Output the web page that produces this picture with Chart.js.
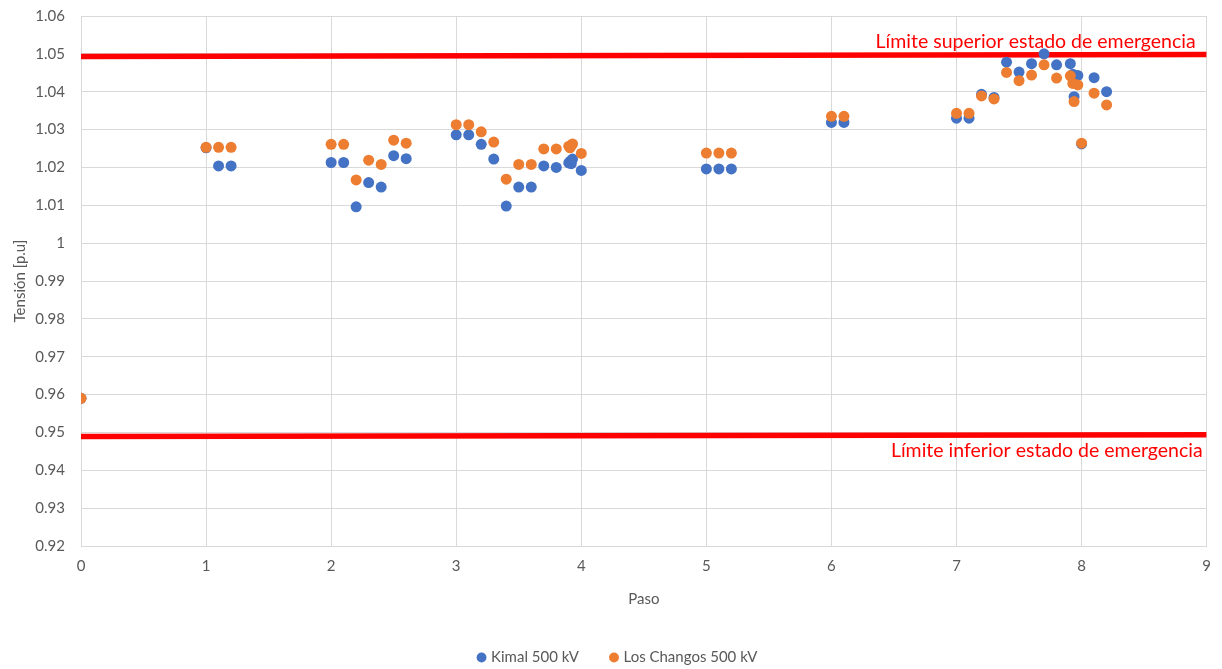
<!DOCTYPE html>
<html lang="es">
<head>
<meta charset="UTF-8">
<title>Tensión por paso</title>
<script src="https://cdn.jsdelivr.net/npm/chart.js@4.4.1/dist/chart.umd.min.js"></script>
<style>
    html, body { margin: 0; padding: 0; background: #fff; }
    #contenedor { width: 1222px; height: 669px; }
</style>
</head>
<body>
<div id="contenedor"><canvas id="chartTension"></canvas></div>
<script>
const pasos = [0, 1, 1.1, 1.2, 2, 2.1, 2.2, 2.3, 2.4, 2.5, 2.6, 3, 3.1, 3.2, 3.3, 3.4, 3.5, 3.6, 3.7, 3.8, 3.9, 3.91, 3.92, 3.93, 4,
    5, 5.1, 5.2, 6, 6.1, 7, 7.1, 7.2, 7.3, 7.4, 7.5, 7.6, 7.7, 7.8, 7.91, 7.93, 7.94, 7.97, 8, 8.1, 8.2]

const kimal = [0.959, 1.0252, 1.0204, 1.0204, 1.0213, 1.0213, 1.0096, 1.0160, 1.0148, 1.0231, 1.0223, 1.0286, 1.0286, 1.0261, 1.0222, 1.0098,
    1.0148, 1.0148, 1.0204, 1.0200, 1.0212, 1.0216, 1.0210, 1.0222, 1.0192, 1.0196, 1.0196, 1.0196, 1.0319, 1.0319, 1.0330, 1.0330,
    1.0393, 1.0385, 1.0478, 1.0452, 1.0474, 1.0500, 1.0471, 1.0474, 1.0446, 1.0387, 1.0443, 1.0262, 1.0437, 1.0400]

const losChangos = [0.959, 1.0253, 1.0253, 1.0253, 1.0261, 1.0261, 1.0167, 1.0219, 1.0208, 1.0272, 1.0264, 1.0313, 1.0313, 1.0294, 1.0267, 1.0169,
    1.0208, 1.0208, 1.0249, 1.0249, 1.0256, 1.0252, 1.0258, 1.0262, 1.0237, 1.0238, 1.0238, 1.0238, 1.0335, 1.0335, 1.0343, 1.0343,
    1.0389, 1.0381, 1.0451, 1.0429, 1.0444, 1.0471, 1.0436, 1.0442, 1.0422, 1.0374, 1.0418, 1.0264, 1.0396, 1.0365]

const extremosLimite = [0, 9]
const limiteSuperior = [1.0493, 1.0498]
const limiteInferior = [0.9489, 0.9494]

const textoSuperior = 'Límite superior estado de emergencia'
const textoInferior = 'Límite inferior estado de emergencia'

const gris = '#595959'
const fuente = 'Lato, "Open Sans", sans-serif'

const aPuntos = (xs, ys) => xs.map((x, i) => ({ x: x, y: ys[i] }))

const etiquetasLimite = {
    id: 'etiquetasLimite',
    afterDatasetsDraw(chart) {
        const { ctx, scales: { x, y } } = chart
        ctx.save()
        ctx.fillStyle = '#FF0000'
        ctx.font = '19.5px ' + fuente
        ctx.textAlign = 'right'
        ctx.textBaseline = 'alphabetic'
        ctx.fillText(textoSuperior, x.getPixelForValue(9) - 11, y.getPixelForValue(limiteSuperior[1]) - 7)
        ctx.fillText(textoInferior, x.getPixelForValue(9) - 4, y.getPixelForValue(limiteInferior[1]) + 22)
        ctx.restore()
    }
}

// la leyenda centrada de chart.js queda un poco a la izquierda
const ajusteLeyenda = {
    id: 'ajusteLeyenda',
    afterLayout(chart) {
        const leyenda = chart.legend
        if (!leyenda) return
        leyenda.left += 15
        leyenda.right += 15
        leyenda.top += 2
        leyenda.bottom += 2
    }
}

const ctx = document.getElementById('chartTension').getContext('2d')

const chartTension = new Chart(ctx, {
    type: 'scatter',
    data: {
        datasets: [
            {
                label: 'Kimal 500 kV',
                data: aPuntos(pasos, kimal),
                backgroundColor: '#4472C4',
                borderColor: '#4472C4',
                borderWidth: 0,
                pointRadius: 5.5,
                pointStyle: 'circle',
                order: 2
            },
            {
                label: 'Los Changos 500 kV',
                data: aPuntos(pasos, losChangos),
                backgroundColor: '#ED7D31',
                borderColor: '#ED7D31',
                borderWidth: 0,
                pointRadius: 5.5,
                pointStyle: 'circle',
                order: 1
            },
            {
                type: 'line',
                label: textoSuperior,
                data: aPuntos(extremosLimite, limiteSuperior),
                borderColor: '#FF0000',
                borderWidth: 5.5,
                pointRadius: 0,
                showLine: true,
                order: 3
            },
            {
                type: 'line',
                label: textoInferior,
                data: aPuntos(extremosLimite, limiteInferior),
                borderColor: '#FF0000',
                borderWidth: 5.5,
                pointRadius: 0,
                showLine: true,
                order: 3
            }
        ]
    },
    options: {
        responsive: true,
        maintainAspectRatio: false,
        animation: false,
        layout: { padding: { top: 16, right: 15, left: 0, bottom: 0 } },
        scales: {
            x: {
                type: 'linear',
                min: 0,
                max: 9,
                ticks: { stepSize: 1, color: gris, font: { family: fuente, size: 15 }, padding: 11 },
                grid: { color: '#D9D9D9', drawTicks: false },
                border: { color: '#D9D9D9' },
                title: { display: true, text: 'Paso', color: gris, font: { family: fuente, size: 15 }, padding: { top: 4, bottom: 7 } },
                afterFit: (scale) => { scale.height = 69 }
            },
            y: {
                min: 0.92,
                max: 1.06,
                ticks: {
                    stepSize: 0.01,
                    color: gris,
                    font: { family: fuente, size: 15 },
                    padding: 16,
                    callback: (v) => String(parseFloat(v.toFixed(2)))
                },
                grid: { color: '#D9D9D9', drawTicks: false },
                border: { color: '#D9D9D9' },
                title: { display: true, text: 'Tensión [p.u]', color: gris, font: { family: fuente, size: 15 }, padding: { top: 11, bottom: 0 } },
                afterFit: (scale) => {
                    scale.width = 81
                    scale.paddingTop = 0
                    scale.paddingBottom = 0
                }
            }
        },
        plugins: {
            legend: {
                position: 'bottom',
                maxHeight: 54,
                labels: {
                    usePointStyle: true,
                    boxWidth: 4,
                    boxHeight: 7,
                    color: gris,
                    font: { family: fuente, size: 15 },
                    padding: 33,
                    filter: (item) => item.datasetIndex < 2,
                    sort: (a, b) => a.datasetIndex - b.datasetIndex
                }
            },
            tooltip: { enabled: false }
        }
    },
    plugins: [etiquetasLimite, ajusteLeyenda]
})
</script>
</body>
</html>
